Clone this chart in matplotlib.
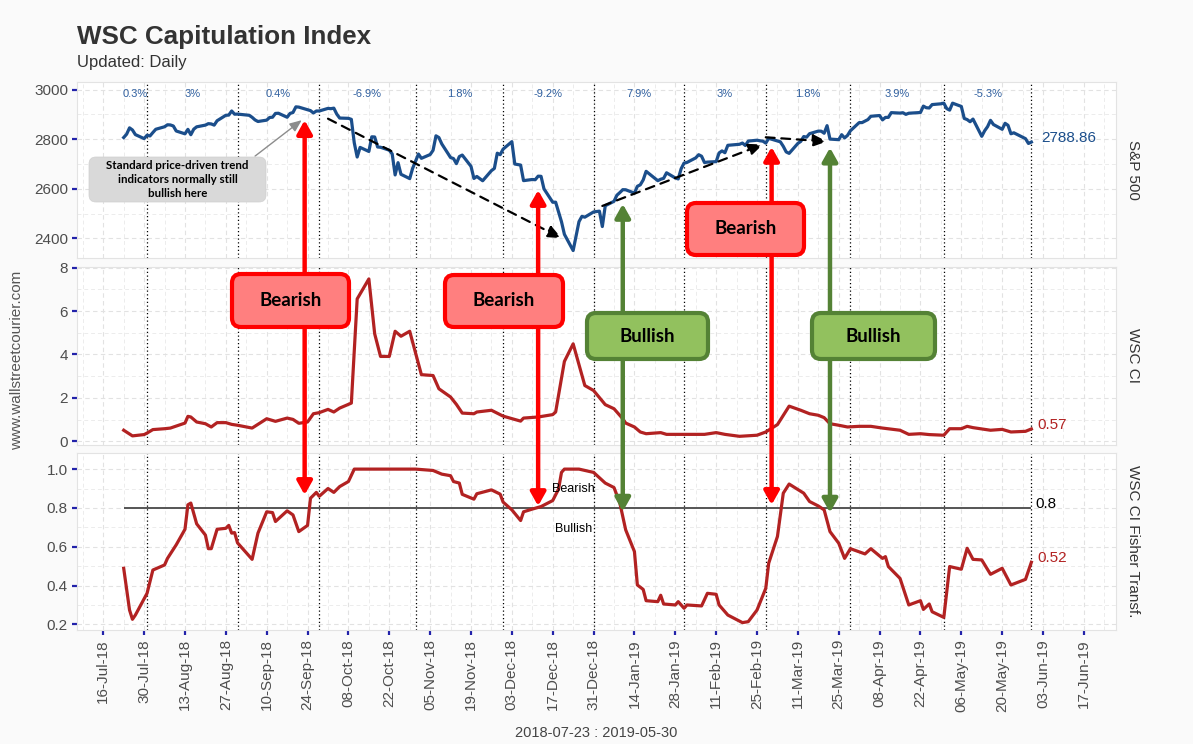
import numpy as np
import pandas as pd
import matplotlib
matplotlib.use('Agg')
import matplotlib.pyplot as plt
import matplotlib.dates as mdates
from matplotlib.patches import FancyBboxPatch, ConnectionPatch
from matplotlib.transforms import IdentityTransform

plt.rcParams['font.family'] = ['Liberation Sans', 'DejaVu Sans']

# S&P 500 daily closes, 2018-07-23 .. 2019-05-30 (by month)
spx_jul = [2806.98, 2820.40, 2846.07, 2837.44, 2818.82, 2802.60, 2816.29]
spx_aug = [2813.36, 2827.22, 2840.35, 2850.40, 2858.45, 2857.70, 2853.58, 2833.28, 2821.93, 2839.96,
           2818.37, 2840.69, 2850.13, 2857.05, 2862.96, 2861.82, 2856.98, 2874.69, 2896.74, 2897.52,
           2914.04, 2901.13, 2901.52]
spx_sep = [2896.72, 2888.60, 2878.05, 2871.68, 2877.13, 2887.89, 2888.92, 2904.18, 2904.98, 2888.80,
           2904.31, 2907.95, 2930.75, 2929.67, 2919.37, 2915.56, 2905.97, 2914.00, 2913.98]
spx_oct = [2924.59, 2923.43, 2925.51, 2901.61, 2885.57, 2884.43, 2880.34, 2785.68, 2728.37, 2767.13,
           2750.79, 2809.92, 2809.21, 2768.78, 2767.78, 2755.88, 2740.69, 2656.10, 2705.57, 2658.69,
           2641.25, 2682.63, 2711.74]
spx_nov = [2740.37, 2723.06, 2738.31, 2755.45, 2813.89, 2806.83, 2781.01, 2726.22, 2722.18, 2701.58,
           2730.20, 2736.27, 2690.73, 2641.89, 2649.93, 2632.56, 2673.45, 2682.17, 2743.79, 2737.80,
           2760.17]
spx_dec = [2790.37, 2700.06, 2695.95, 2633.08, 2637.72, 2636.78, 2651.07, 2650.54, 2599.95, 2545.94,
           2546.16, 2506.96, 2467.42, 2416.58, 2351.10, 2467.70, 2488.83, 2485.74, 2506.85]
spx_jan = [2510.03, 2447.89, 2531.94, 2549.69, 2574.41, 2584.96, 2596.64, 2596.26, 2582.61, 2610.30,
           2616.10, 2635.96, 2670.71, 2632.90, 2638.70, 2642.33, 2664.76, 2643.85, 2640.00, 2681.05,
           2704.10]
spx_feb = [2706.53, 2724.87, 2737.70, 2731.61, 2706.05, 2707.88, 2709.80, 2744.73, 2753.03, 2745.73,
           2775.60, 2779.76, 2784.70, 2774.88, 2792.67, 2796.11, 2793.90, 2792.38, 2784.49]
spx_mar = [2803.69, 2792.81, 2789.65, 2771.45, 2748.93, 2743.07, 2783.30, 2791.52, 2810.92, 2808.48,
           2822.48, 2832.94, 2832.57, 2824.23, 2854.88, 2800.71, 2798.36, 2818.46, 2805.37, 2815.44,
           2834.40]
spx_apr = [2867.19, 2867.24, 2873.40, 2879.39, 2892.74, 2895.77, 2878.20, 2888.21, 2888.32, 2907.41,
           2905.58, 2907.06, 2900.45, 2905.03, 2907.97, 2933.68, 2927.25, 2926.17, 2939.88, 2943.03,
           2945.83]
spx_may = [2923.73, 2917.52, 2945.64, 2932.47, 2884.05, 2879.42, 2870.72, 2881.40, 2811.87, 2834.41,
           2850.96, 2876.32, 2859.53, 2840.23, 2864.36, 2856.27, 2822.24, 2826.06, 2802.39, 2783.02,
           2788.86]
market_holidays = ['2018-09-03', '2018-11-22', '2018-12-05', '2018-12-25', '2019-01-01',
                   '2019-01-21', '2019-02-18', '2019-04-19', '2019-05-27']

# WSC CI
ci_dates = ['2018-07-23', '2018-07-26', '2018-07-30', '2018-07-31', '2018-08-02', '2018-08-06', '2018-08-08',
            '2018-08-13', '2018-08-14', '2018-08-15', '2018-08-17', '2018-08-20', '2018-08-22', '2018-08-24',
            '2018-08-27', '2018-08-29', '2018-08-31', '2018-09-05', '2018-09-10', '2018-09-13', '2018-09-17',
            '2018-09-19', '2018-09-21', '2018-09-24', '2018-09-26', '2018-09-28', '2018-10-01', '2018-10-03',
            '2018-10-05', '2018-10-09', '2018-10-11', '2018-10-15', '2018-10-17', '2018-10-19', '2018-10-22',
            '2018-10-24', '2018-10-26', '2018-10-29', '2018-11-02', '2018-11-06', '2018-11-08', '2018-11-12',
            '2018-11-14', '2018-11-16', '2018-11-20', '2018-11-21', '2018-11-26', '2018-11-30', '2018-12-06',
            '2018-12-07', '2018-12-12', '2018-12-17', '2018-12-18', '2018-12-21', '2018-12-24', '2018-12-28',
            '2018-12-31', '2019-01-04', '2019-01-07', '2019-01-10', '2019-01-11', '2019-01-14', '2019-01-16',
            '2019-01-18', '2019-01-23', '2019-01-25', '2019-02-07', '2019-02-11', '2019-02-14', '2019-02-19',
            '2019-02-25', '2019-02-28', '2019-03-04', '2019-03-08', '2019-03-12', '2019-03-15', '2019-03-18',
            '2019-03-20', '2019-03-22', '2019-03-25', '2019-03-28', '2019-04-01', '2019-04-05', '2019-04-09',
            '2019-04-15', '2019-04-18', '2019-04-22', '2019-04-25', '2019-04-30', '2019-05-02', '2019-05-06',
            '2019-05-08', '2019-05-10', '2019-05-16', '2019-05-20', '2019-05-23', '2019-05-28', '2019-05-30']
ci_values = [0.51, 0.25, 0.31, 0.38, 0.54, 0.58, 0.61, 0.84, 1.15, 1.12, 0.89, 0.81, 0.66, 0.86, 0.86, 0.78,
             0.74, 0.61, 1.04, 0.92, 1.07, 1.01, 0.83, 0.89, 1.27, 1.32, 1.47, 1.35, 1.53, 1.76, 6.56, 7.48,
             4.95, 3.91, 3.91, 5.07, 4.84, 5.07, 3.07, 3.03, 2.42, 2.04, 1.70, 1.30, 1.27, 1.35, 1.43, 1.16,
             0.93, 1.07, 1.12, 1.23, 1.35, 3.68, 4.49, 2.57, 2.34, 1.69, 1.50, 1.04, 0.84, 0.66, 0.43, 0.35,
             0.40, 0.32, 0.32, 0.40, 0.32, 0.23, 0.28, 0.43, 0.77, 1.62, 1.43, 1.27, 1.20, 1.09, 0.81, 0.74,
             0.66, 0.69, 0.69, 0.61, 0.51, 0.32, 0.35, 0.31, 0.28, 0.58, 0.58, 0.69, 0.63, 0.51, 0.55, 0.43,
             0.46, 0.57]

# WSC CI Fisher transform
fisher_dates = ['2018-07-23', '2018-07-25', '2018-07-26', '2018-07-27', '2018-07-31', '2018-08-02', '2018-08-06',
                '2018-08-07', '2018-08-10', '2018-08-13', '2018-08-14', '2018-08-15', '2018-08-17', '2018-08-20',
                '2018-08-21', '2018-08-22', '2018-08-24', '2018-08-27', '2018-08-28', '2018-08-29', '2018-08-30',
                '2018-08-31', '2018-09-05', '2018-09-07', '2018-09-10', '2018-09-12', '2018-09-13', '2018-09-17',
                '2018-09-19', '2018-09-21', '2018-09-24', '2018-09-25', '2018-09-27', '2018-09-28', '2018-10-01',
                '2018-10-03', '2018-10-05', '2018-10-08', '2018-10-10', '2018-10-31', '2018-11-06', '2018-11-09',
                '2018-11-12', '2018-11-13', '2018-11-15', '2018-11-16', '2018-11-20', '2018-11-21', '2018-11-26',
                '2018-11-29', '2018-11-30', '2018-12-03', '2018-12-06', '2018-12-07', '2018-12-10', '2018-12-13',
                '2018-12-17', '2018-12-19', '2018-12-20', '2018-12-21', '2018-12-26', '2018-12-31', '2019-01-04',
                '2019-01-07', '2019-01-09', '2019-01-11', '2019-01-14', '2019-01-15', '2019-01-17', '2019-01-18',
                '2019-01-22', '2019-01-23', '2019-01-24', '2019-01-28', '2019-01-29', '2019-01-31', '2019-02-01',
                '2019-02-06', '2019-02-08', '2019-02-11', '2019-02-12', '2019-02-15', '2019-02-20', '2019-02-22',
                '2019-02-25', '2019-02-28', '2019-03-01', '2019-03-04', '2019-03-06', '2019-03-08', '2019-03-13',
                '2019-03-15', '2019-03-18', '2019-03-20', '2019-03-22', '2019-03-25', '2019-03-27', '2019-03-29',
                '2019-04-03', '2019-04-05', '2019-04-09', '2019-04-10', '2019-04-11', '2019-04-15', '2019-04-18',
                '2019-04-22', '2019-04-23', '2019-04-25', '2019-04-26', '2019-04-30', '2019-05-02', '2019-05-06',
                '2019-05-08', '2019-05-10', '2019-05-13', '2019-05-16', '2019-05-20', '2019-05-23', '2019-05-28',
                '2019-05-30']
fisher_values = [0.489, 0.274, 0.226, 0.248, 0.36, 0.48, 0.506, 0.54, 0.61, 0.69, 0.816, 0.825, 0.718, 0.66,
                 0.59, 0.59, 0.69, 0.695, 0.71, 0.67, 0.673, 0.62, 0.535, 0.67, 0.78, 0.776, 0.73, 0.785,
                 0.764, 0.678, 0.71, 0.85, 0.88, 0.86, 0.90, 0.88, 0.91, 0.936, 1.0, 1.0, 0.993, 0.974,
                 0.966, 0.936, 0.928, 0.87, 0.845, 0.873, 0.893, 0.871, 0.83, 0.79, 0.735, 0.78, 0.794,
                 0.807, 0.838, 0.897, 0.983, 1.0, 1.0, 0.983, 0.928, 0.905, 0.825, 0.687, 0.575, 0.403,
                 0.38, 0.322, 0.317, 0.35, 0.305, 0.30, 0.317, 0.283, 0.30, 0.295, 0.36, 0.355, 0.30,
                 0.248, 0.209, 0.214, 0.274, 0.386, 0.515, 0.653, 0.876, 0.923, 0.876, 0.833, 0.81, 0.79,
                 0.678, 0.618, 0.54, 0.59, 0.563, 0.59, 0.54, 0.549, 0.498, 0.437, 0.30, 0.322, 0.277,
                 0.305, 0.265, 0.236, 0.498, 0.484, 0.592, 0.535, 0.532, 0.458, 0.489, 0.403, 0.432, 0.52]
fisher_threshold = 0.8

# month-end separators and monthly S&P returns
month_ends = ['2018-07-31', '2018-08-31', '2018-09-28', '2018-10-31', '2018-11-30', '2018-12-31',
              '2019-01-31', '2019-02-28', '2019-03-29', '2019-04-30', '2019-05-30']
month_returns = ['0.3%', '3%', '0.4%', '-6.9%', '1.8%', '-9.2%', '7.9%', '3%', '1.8%', '3.9%', '-5.3%']

# signal arrows: (date, S&P end, Fisher end, kind)
signal_dates = ['2018-09-23', '2018-12-12', '2019-01-10', '2019-03-02', '2019-03-22']
signal_spx = [2877, 2595, 2539, 2769, 2766]
signal_fisher = [0.867, 0.81, 0.781, 0.816, 0.776]
signal_kind = ['Bearish', 'Bearish', 'Bullish', 'Bearish', 'Bullish']

spx_close = spx_jul + spx_aug + spx_sep + spx_oct + spx_nov + spx_dec + spx_jan + spx_feb + spx_mar + spx_apr + spx_may
spx_dates = pd.bdate_range('2018-07-23', '2019-05-30')
spx_dates = spx_dates[~spx_dates.isin(pd.to_datetime(market_holidays))]
assert len(spx_dates) == len(spx_close)

ci_dates = pd.to_datetime(ci_dates)
fisher_dates = pd.to_datetime(fisher_dates)
month_ends = pd.to_datetime(month_ends)
start, end = spx_dates[0], spx_dates[-1]

W, H = 1193, 744
fig = plt.figure(figsize=(W / 100, H / 100), dpi=100, facecolor='#fafafa')

def panel(top, bottom):
    return fig.add_axes([77 / W, 1 - bottom / H, (1116 - 77) / W, (bottom - top) / H])

ax1 = panel(82, 258)
ax2 = panel(267, 445)
ax3 = panel(453, 630)

xmin, xmax = pd.Timestamp('2018-07-07'), pd.Timestamp('2019-06-28')
xmajor = pd.date_range('2018-07-16', '2019-06-17', freq='14D')
xminor = pd.date_range('2018-07-09', '2019-06-24', freq='14D')

def style(ax, ylim, yticks, yminor, labels):
    ax.set_facecolor('white')
    ax.set_xlim(xmin, xmax)
    ax.set_ylim(*ylim)
    ax.set_xticks(xmajor)
    ax.set_xticks(xminor, minor=True)
    ax.set_yticks(yticks)
    ax.set_yticklabels(labels)
    ax.set_yticks(yminor, minor=True)
    ax.grid(which='major', color='#e2e2e2', ls=(0, (4, 3)), lw=0.8)
    ax.grid(which='minor', color='#ececec', ls=(0, (4, 3)), lw=0.7)
    ax.set_axisbelow(True)
    for s in ax.spines.values():
        s.set_color('#e3e3e3')
        s.set_linewidth(0.8)
    ax.tick_params(axis='y', which='major', length=3.5, width=1.6, color='#2222aa',
                   labelcolor='#4d4d4d', labelsize=11, pad=3)
    ax.tick_params(axis='x', which='major', length=3.5, width=1.6, color='#2222aa',
                   labelcolor='#4d4d4d', labelsize=11, pad=3)
    ax.tick_params(which='minor', length=0)
    for d in month_ends:
        ax.axvline(d, color='black', ls=(0, (1, 2)), lw=0.9, zorder=1)

style(ax1, (2321, 3031), [2400, 2600, 2800, 3000], [2500, 2700, 2900], ['2400', '2600', '2800', '3000'])
style(ax2, (-0.17, 8.03), [0, 2, 4, 6, 8], [1, 3, 5, 7], ['0', '2', '4', '6', '8'])
style(ax3, (0.171, 1.083), [0.2, 0.4, 0.6, 0.8, 1.0], [0.3, 0.5, 0.7, 0.9], ['0.2', '0.4', '0.6', '0.8', '1.0'])
for ax in (ax1, ax2):
    ax.tick_params(axis='x', which='both', length=0, labelbottom=False)
ax3.xaxis.set_major_formatter(mdates.DateFormatter('%d-%b-%y'))
plt.setp(ax3.get_xticklabels(), rotation=90)

blue, red = '#1b4e8b', '#b22222'
ax1.plot(spx_dates, spx_close, color=blue, lw=2.3, zorder=3)
ax2.plot(ci_dates, ci_values, color=red, lw=2.3, zorder=3)
ax3.plot(fisher_dates, fisher_values, color=red, lw=2.3, zorder=3)
ax3.hlines(fisher_threshold, start, end, color='#555555', lw=1.4, zorder=2)

# monthly returns centred between separators
seg_starts = pd.DatetimeIndex([start]).append(month_ends[:-1])
for s, e, txt in zip(seg_starts, month_ends, month_returns):
    ax1.text(s + (e - s) / 2, 3003, txt, ha='center', va='top', fontsize=8, color='#2f5f9f')

day = pd.Timedelta(days=1)
ax1.text(end + 3.5 * day, spx_close[-1], f'{spx_close[-1]:.2f}', color=blue, fontsize=11, va='baseline')
ax2.text(end + 2 * day, ci_values[-1], f'{ci_values[-1]:.2f}', color=red, fontsize=11, va='baseline')
ax3.text(end + 2 * day, fisher_values[-1], f'{fisher_values[-1]:.2f}', color=red, fontsize=11, va='baseline')
ax3.text(end + 1.5 * day, fisher_threshold, f'{fisher_threshold}', color='black', fontsize=11, va='baseline')
ax3.text(pd.Timestamp('2018-12-24'), 0.898, 'Bearish', ha='center', va='center', fontsize=9)
ax3.text(pd.Timestamp('2018-12-24'), 0.693, 'Bullish', ha='center', va='center', fontsize=9)

for ax, name in ((ax1, 'S&P 500'), (ax2, 'WSC CI'), (ax3, 'WSC CI Fisher Transf.')):
    ax.text(1.0164, 0.5, name, transform=ax.transAxes, rotation=270, ha='center', va='center',
            fontsize=11, color='#333333')

# dashed trend arrows
trend = [('2018-10-01', 2883, '2018-12-20', 2401),
         ('2019-01-03', 2531, '2019-02-27', 2779),
         ('2019-02-28', 2808, '2019-03-21', 2791)]
for d0, v0, d1, v1 in trend:
    ax1.annotate('', xy=(pd.Timestamp(d1), v1), xytext=(pd.Timestamp(d0), v0),
                 arrowprops=dict(arrowstyle='-|>,head_length=0.7,head_width=0.3', color='black', lw=1.6,
                                 ls=(0, (4, 3)), shrinkA=0, shrinkB=0, mutation_scale=12), zorder=4)

# callout
ax1.annotate('', xy=(pd.Timestamp('2018-09-22'), 2877), xytext=(pd.Timestamp('2018-09-06'), 2732),
             arrowprops=dict(arrowstyle='-|>,head_length=0.6,head_width=0.25', color='#8c8c8c', lw=1.0,
                             shrinkA=0, shrinkB=0, mutation_scale=12), zorder=4)

def box(x0, y0, x1, y1, fc, ec, lw, r, text, size, z=6):
    p = FancyBboxPatch((x0, H - y1), x1 - x0, y1 - y0, boxstyle=f'round,pad=0,rounding_size={r}',
                       fc=fc, ec=ec, lw=lw, transform=IdentityTransform(), zorder=z)
    fig.add_artist(p)
    fig.text((x0 + x1) / 2 / W, 1 - (y0 + y1) / 2 / H, text, ha='center', va='center', fontsize=size,
             fontweight='bold', family=['Lato', 'DejaVu Sans'], color='black', zorder=z + 1,
             linespacing=1.3)

box(89, 157, 266, 202, '#d9d9d9', '#d0d0d0', 0.5, 7,
    'Standard price-driven trend\nindicators normally still\nbullish here', 8.3)

# signal arrows spanning S&P and Fisher panels
colors = {'Bearish': '#ff0000', 'Bullish': '#548235'}
for d, v_top, v_bot, kind in zip(signal_dates, signal_spx, signal_fisher, signal_kind):
    x = mdates.date2num(pd.Timestamp(d))
    con = ConnectionPatch(xyA=(x, v_top), coordsA=ax1.transData, xyB=(x, v_bot), coordsB=ax3.transData,
                          arrowstyle='<|-|>,head_length=0.8,head_width=0.45', mutation_scale=10,
                          lw=3.2, color=colors[kind], zorder=5)
    fig.add_artist(con)

label_boxes = [(232, 274, 349, 327, 'Bearish'), (445, 275, 563, 327, 'Bearish'),
               (587, 313, 708, 359, 'Bullish'), (687, 203, 804, 255, 'Bearish'),
               (812, 313, 935, 359, 'Bullish')]
for x0, y0, x1, y1, kind in label_boxes:
    fc = '#ff7f7f' if kind == 'Bearish' else '#92c15e'
    box(x0, y0, x1, y1, fc, colors[kind], 3.0, 9, kind, 13.5)

fig.text(77 / W, 1 - 44.3 / H, 'WSC Capitulation Index', fontsize=18.7, fontweight='bold', color='#333333',
         va='baseline')
fig.text(77 / W, 1 - 67 / H, 'Updated: Daily', fontsize=12, color='#333333', va='baseline')
fig.text(17 / W, 1 - 360 / H, 'www.wallstreetcourier.com', rotation=90, ha='center', va='center',
         fontsize=11, color='#555555')
fig.text(596.5 / W, 1 - 733 / H, f'{start:%Y-%m-%d} : {end:%Y-%m-%d}', ha='center', va='center',
         fontsize=10.5, color='#444444')

fig.savefig('out.png', dpi=100, facecolor=fig.get_facecolor())
